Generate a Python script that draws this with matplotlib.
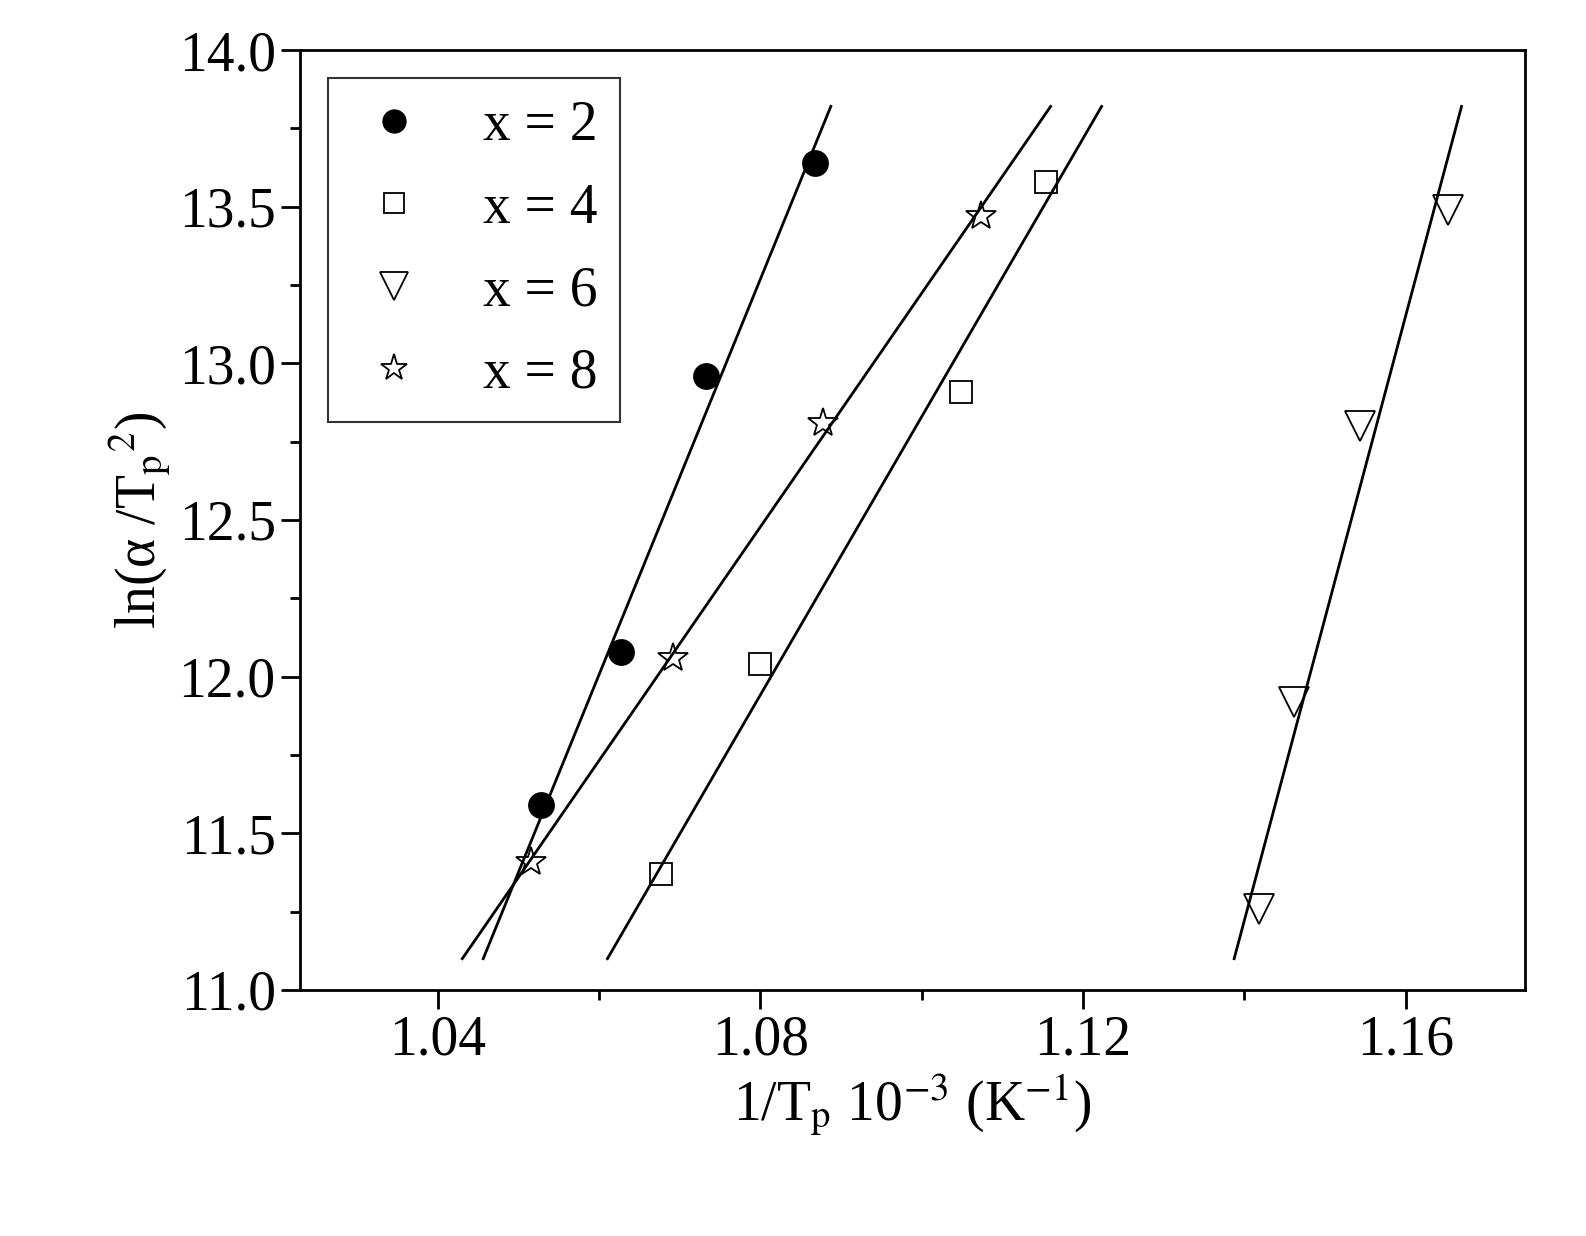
import numpy as np
import matplotlib
matplotlib.use("Agg")
import matplotlib.pyplot as plt
from matplotlib.ticker import MultipleLocator

plt.rcParams['font.family'] = ['Liberation Serif', 'DejaVu Serif']
plt.rcParams['mathtext.fontset'] = 'stix'

labels = ["x = 2", "x = 4", "x = 6", "x = 8"]
x2 = [1.0528, 1.0627, 1.0733, 1.0867]
y2 = [11.59, 12.08, 12.96, 13.64]
x4 = [1.0677, 1.0800, 1.1049, 1.1154]
y4 = [11.37, 12.04, 12.91, 13.58]
x6 = [1.1418, 1.1461, 1.1544, 1.1652]
y6 = [11.26, 11.92, 12.80, 13.49]
x8 = [1.0515, 1.0691, 1.0877, 1.1073]
y8 = [11.41, 12.06, 12.81, 13.47]
# fitted-line extents (y range)
line_y = [11.10, 13.82]

fig = plt.figure(figsize=(15.86, 12.36), dpi=100)
ax = fig.add_axes([300/1586, 1-990/1236, 1225/1586, 940/1236])

series = [(x2, y2, 'o', 'black'), (x4, y4, 's', 'none'), (x6, y6, 'v', 'none'), (x8, y8, '*', 'none')]
sizes = [18, 16, 22, 22]
for (xs, ys, m, fc), lab, ms in zip(series, labels, sizes):
    ax.plot(xs, ys, linestyle='none', marker=m, markersize=ms, markerfacecolor=fc,
            markeredgecolor='black', markeredgewidth=1.3, label=lab)
    k, b = np.polyfit(ys, xs, 1)
    yy = np.array(line_y)
    ax.plot(k*yy+b, yy, color='black', lw=2)

ax.set_xlim(1.0229, 1.1748)
ax.set_ylim(11.0, 14.0)
ax.xaxis.set_major_locator(MultipleLocator(0.04))
ax.xaxis.set_minor_locator(MultipleLocator(0.02))
ax.yaxis.set_major_locator(MultipleLocator(0.5))
ax.yaxis.set_minor_locator(MultipleLocator(0.25))
ax.xaxis.set_major_formatter(matplotlib.ticker.FormatStrFormatter('%.2f'))
ax.yaxis.set_major_formatter(matplotlib.ticker.FormatStrFormatter('%.1f'))
ax.tick_params(which='major', direction='out', length=14, width=2, labelsize=40)
ax.tick_params(which='minor', direction='out', length=7, width=2)
for s in ax.spines.values():
    s.set_linewidth(2)
ax.set_xlabel(r'1/T$_\mathrm{p}$ 10$^{-3}$ (K$^{-1}$)', fontsize=40)
ax.set_ylabel(r'ln(α /T$_\mathrm{p}$$^2$)', fontsize=40)
leg = ax.legend(loc='upper left', fontsize=40, frameon=True, fancybox=False,
                edgecolor='black', handletextpad=0.8, handlelength=1.6,
                borderaxespad=0.5, markerscale=0.9, labelspacing=0.55)
leg.get_frame().set_linewidth(1.5)
fig.savefig('out.png', dpi=100)
